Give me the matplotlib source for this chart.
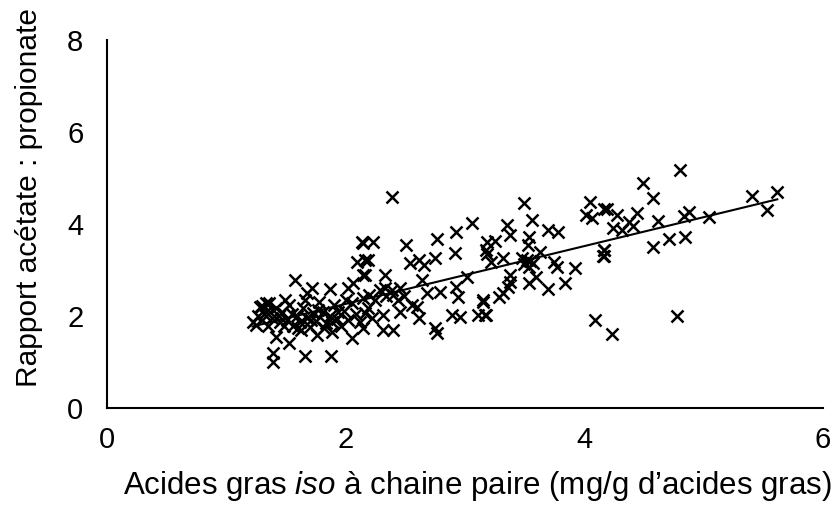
import numpy as np
import matplotlib
matplotlib.use("Agg")
import matplotlib.pyplot as plt

plt.rcParams["font.family"] = ["Liberation Sans", "DejaVu Sans"]
plt.rcParams["mathtext.fontset"] = "custom"
plt.rcParams["mathtext.rm"] = "Liberation Sans"
plt.rcParams["mathtext.it"] = "Liberation Sans:italic"

# iso even-chain fatty acids (mg/g FA) vs acetate:propionate ratio
iso_fa = [
    1.22, 1.27, 1.30, 1.32, 1.35, 1.38, 1.42, 1.45, 1.47, 1.51, 1.53, 1.56, 1.59, 1.62,
    1.64, 1.68, 1.70, 1.73, 1.75, 1.78, 1.81, 1.84, 1.87, 1.90, 1.93, 1.96, 1.99, 2.02,
    2.05, 2.09, 2.12, 2.15, 2.19, 2.22, 2.25, 2.29, 2.34, 2.39, 2.44, 2.49,
    1.25, 1.30, 1.33, 1.37, 1.44, 1.48, 1.55, 1.60, 1.66, 1.71, 1.77, 1.82, 1.89, 1.94, 2.00,
    2.15, 2.10, 2.16, 2.15, 1.58, 1.72, 1.68, 1.87, 2.02, 2.06, 1.28, 1.36, 1.49,
    1.42, 1.53, 1.39, 1.39, 1.66, 1.88, 1.76, 1.89, 2.05, 1.63,
    2.39, 2.23, 2.14, 2.51, 2.77, 2.93, 3.06, 2.92, 2.19, 2.54, 2.62, 2.66, 2.75,
    2.33, 2.16, 2.64, 3.02, 2.93, 2.94, 2.79, 2.68, 2.33, 2.46, 2.20, 2.40,
    2.56, 2.60, 2.46, 2.31, 2.16, 2.62, 2.15, 2.31, 2.40, 2.75, 2.77,
    3.15, 3.11, 3.18, 2.89, 2.96,
    3.50, 3.56, 3.35, 3.38, 3.70, 3.78, 4.05, 4.02, 4.07, 4.17,
    3.19, 3.25, 3.18, 3.54, 3.53, 3.63, 3.32, 3.19, 3.22, 3.52, 3.57, 3.54,
    3.75, 3.77, 3.92, 3.84, 3.70, 3.60, 3.54, 3.38, 3.38, 3.36, 3.32, 3.29,
    3.15, 3.17, 4.09, 4.17, 4.16, 3.48, 3.55, 3.50,
    4.80, 4.49, 4.58, 4.19, 4.28, 4.44, 4.38, 4.24, 4.32, 4.41, 4.62, 4.84, 4.88,
    5.05, 5.41, 5.62, 5.53, 4.58, 4.71, 4.85, 4.17, 4.17, 4.78, 4.23,
]
ac_prop = [
    1.87, 2.00, 2.22, 2.04, 1.78, 1.96, 2.17, 1.87, 2.09, 1.91, 2.24, 1.78, 2.00, 1.87,
    2.17, 1.96, 1.76, 2.07, 1.89, 2.30, 2.09, 1.85, 2.00, 2.24, 1.93, 1.78, 2.11, 1.91,
    2.28, 2.04, 1.87, 2.39, 2.17, 1.96, 2.35, 2.57, 2.43, 2.57, 2.35, 2.43,
    1.80, 1.91, 2.28, 2.09, 2.00, 1.78, 2.04, 1.74, 2.35, 1.91, 2.13, 1.74, 1.87, 2.09, 2.35,
    3.59, 3.17, 3.22, 2.89, 2.78, 2.61, 2.50, 2.59, 2.61, 2.72, 2.20, 2.28, 2.35,
    1.54, 1.41, 1.20, 1.00, 1.13, 1.13, 1.59, 1.65, 1.52, 1.70,
    4.59, 3.61, 3.61, 3.54, 3.67, 3.83, 4.02, 3.37, 3.22, 3.15, 3.22, 3.11, 3.26,
    2.89, 2.89, 2.78, 2.85, 2.63, 2.41, 2.52, 2.50, 2.61, 2.61, 2.46, 2.46,
    2.24, 2.20, 2.09, 2.02, 2.07, 1.96, 1.74, 1.70, 1.70, 1.74, 1.63,
    2.35, 2.02, 2.02, 2.02, 1.98,
    4.46, 4.09, 3.98, 3.76, 3.87, 3.83, 4.48, 4.20, 4.13, 4.33,
    3.61, 3.63, 3.43, 3.72, 3.54, 3.39, 3.26, 3.35, 3.17, 3.22, 3.15, 3.07,
    3.17, 3.07, 3.04, 2.72, 2.59, 2.85, 2.72, 2.89, 2.74, 2.63, 2.50, 2.41,
    2.30, 2.02, 1.91, 3.43, 3.30, 3.26, 3.20, 3.13,
    5.17, 4.89, 4.57, 4.33, 4.20, 4.24, 4.04, 3.91, 3.87, 3.96, 4.07, 4.17, 4.26,
    4.15, 4.61, 4.70, 4.30, 3.50, 3.67, 3.72, 3.43, 3.30, 2.00, 1.61,
]

x = np.array(iso_fa)
y = np.array(ac_prop)

fig = plt.figure(figsize=(8.36, 5.07), dpi=100)
ax = fig.add_axes([0.128, 0.195, 0.856, 0.726])

ax.plot(x, y, linestyle="none", marker="x", color="black",
        markersize=8, markeredgewidth=1.8)

# linear trendline
slope, intercept = np.polyfit(x, y, 1)
xs = np.array([x.min(), x.max()])
ax.plot(xs, slope * xs + intercept, color="black", linewidth=1.5)

ax.set_xlim(0, 6)
ax.set_ylim(0, 8)
ax.set_xticks([0, 2, 4, 6])
ax.set_yticks([0, 2, 4, 6, 8])
ax.tick_params(length=0, labelsize=21)
ax.tick_params(axis="x", pad=13)
ax.tick_params(axis="y", pad=17)

for side in ["top", "right"]:
    ax.spines[side].set_visible(False)
for side in ["left", "bottom"]:
    ax.spines[side].set_linewidth(1.5)

ax.set_xlabel("Acides gras $\\mathit{iso}$ à chaine paire (mg/g d’acides gras)",
              fontsize=22.5)
ax.set_ylabel("Rapport acétate : propionate", fontsize=21.5)
ax.xaxis.set_label_coords(0.517, -0.165)
ax.yaxis.set_label_coords(-0.09, 0.573)

fig.savefig("out.png", dpi=100)
